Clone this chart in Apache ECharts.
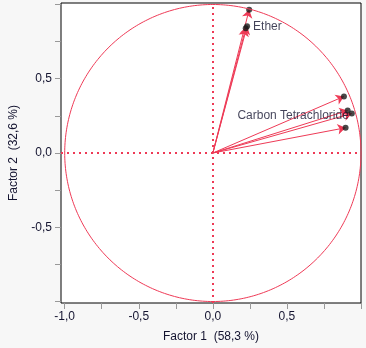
<!DOCTYPE html>
<html><head><meta charset="utf-8">
<script src="https://cdn.jsdelivr.net/npm/echarts@6/dist/echarts.min.js"></script>
<style>html,body{margin:0;padding:0;background:#f7f7f7}#c{width:366px;height:348px}</style>
</head><body><div id="c"></div>
<script>
// Loadings (Factor 1, Factor 2)
const factor1 = [0.245, 0.231, 0.222, 0.885, 0.910, 0.938, 0.896];
const factor2 = [0.965, 0.853, 0.840, 0.381, 0.286, 0.266, 0.170];
const pointLabels = ['', 'Ether', '', '', '', 'Carbon Tetrachloride', ''];
const xTicks = [-1, -0.75, -0.5, -0.25, 0, 0.25, 0.5, 0.75, 1];
const xTickLabels = [-1, -0.5, 0, 0.5];
const yTicks = [-1, -0.75, -0.5, -0.25, 0, 0.25, 0.5, 0.75, 1];
const yTickLabels = [-0.5, 0, 0.5];
const xName = 'Factor 1  (58,3 %)';
const yName = 'Factor 2  (32,6 %)';

const RED = '#ee3a56';
const FONT = 'Liberation Sans';
const TXT = '#141430';
const fmt = v => v.toFixed(1).replace('.', ',');

// unit circle (reference shape)
const circle = [];
for (let i = 0; i <= 360; i++) { const a = i * Math.PI / 180; circle.push([Math.cos(a), Math.sin(a)]); }

const pts = factor1.map((x, i) => [x, factor2[i]]);

const chart = echarts.init(document.getElementById('c'), null, {renderer: 'canvas'});
chart.setOption({
  backgroundColor: '#f7f7f7',
  animation: false,
  grid: {left: 57, right: 5, top: 3, bottom: 41, show: true, backgroundColor: '#fff', borderColor: '#000', borderWidth: 1},
  xAxis: {
    type: 'value', min: -1.025, max: 1.0,
    name: xName, nameLocation: 'middle', nameGap: 28,
    nameTextStyle: {color: TXT, fontFamily: FONT, fontSize: 12},
    axisLine: {show: false, onZero: false},
    axisTick: {show: true, customValues: xTicks, length: 6, lineStyle: {color: '#999'}},
    axisLabel: {customValues: xTickLabels, formatter: fmt, color: TXT, fontFamily: FONT, fontSize: 12, margin: 8},
    splitLine: {show: false}
  },
  yAxis: {
    type: 'value', min: -1.01, max: 1.01,
    name: yName, nameLocation: 'middle', nameGap: 41,
    nameTextStyle: {color: TXT, fontFamily: FONT, fontSize: 12},
    axisLine: {show: false, onZero: false},
    axisTick: {show: true, customValues: yTicks, length: 6, lineStyle: {color: '#999'}},
    axisLabel: {customValues: yTickLabels, formatter: fmt, color: TXT, fontFamily: FONT, fontSize: 12, margin: 9},
    splitLine: {show: false}
  },
  series: [
    {
      type: 'line', data: circle, showSymbol: false, silent: true,
      lineStyle: {color: RED, width: 1},
      markLine: {
        silent: true, symbol: ['none', 'none'], label: {show: false},
        lineStyle: {color: RED, width: 2, type: [2, 4]},
        data: [{xAxis: 0}, {yAxis: 0}]
      }
    },
    {
      type: 'scatter', symbol: 'circle', symbolSize: 6,
      itemStyle: {color: '#1a1a1a'},
      data: pts.map((p, i) => ({
        value: p,
        label: pointLabels[i] === 'Ether' ? {show: true, position: 'right', distance: 3}
             : pointLabels[i] ? {show: true, position: 'left', distance: 0, offset: [0, 2]} : {show: false}
      })),
      label: {
        fontFamily: FONT, fontSize: 12, color: TXT,
        formatter: p => pointLabels[p.dataIndex] || ''
      },
      emphasis: {disabled: true}
    },
    {
      type: 'lines', coordinateSystem: 'cartesian2d',
      data: pts.map(p => ({coords: [[0, 0], p]})),
      symbol: ['none', 'arrow'], symbolSize: [0, 8],
      lineStyle: {color: RED, width: 1, opacity: 1},
      silent: true
    }
  ]
});
</script></body></html>
